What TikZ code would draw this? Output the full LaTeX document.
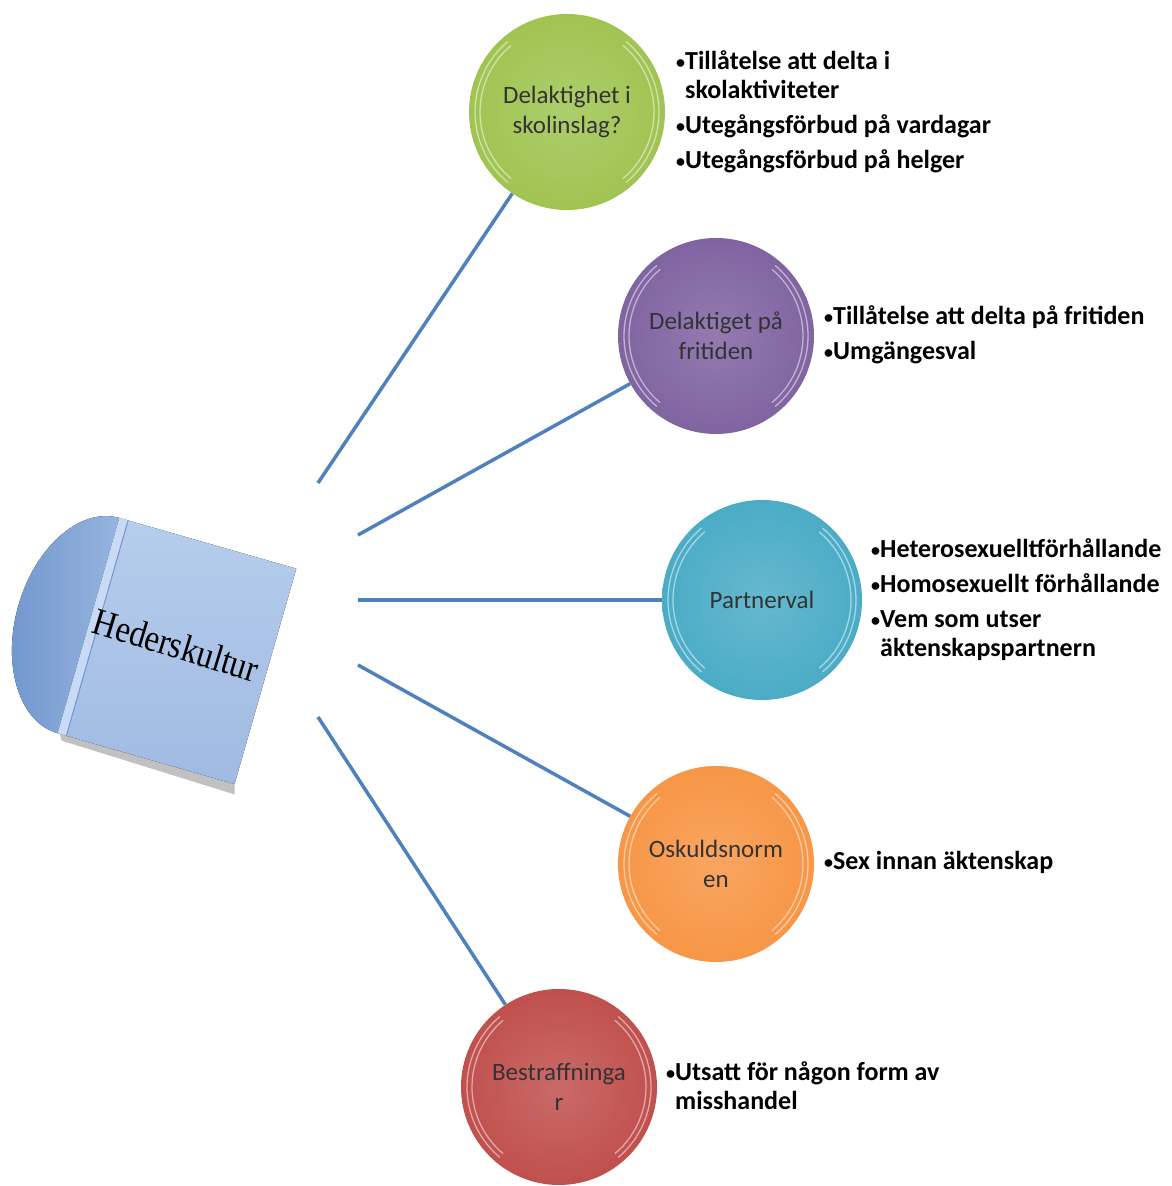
\documentclass[tikz,border=0pt]{standalone}
\usepackage{fontspec}
\setmainfont{Carlito}
\newfontfamily\serifhead[FakeStretch=0.86]{Liberation Serif}
\definecolor{linkblue}{RGB}{79,129,189}
\definecolor{cgreen}{RGB}{160,196,82}
\definecolor{cpurple}{RGB}{128,100,162}
\definecolor{cteal}{RGB}{75,172,198}
\definecolor{corange}{RGB}{247,150,70}
\definecolor{cred}{RGB}{192,80,77}
\definecolor{sqtop}{RGB}{182,205,236}
\definecolor{sqbot}{RGB}{160,186,226}
\definecolor{diskA}{RGB}{112,150,206}
\definecolor{diskB}{RGB}{150,180,222}
\definecolor{stripc}{RGB}{200,218,244}
\newcommand\bu{{\fontsize{18}{18}\selectfont\raisebox{1.5pt}{•}}}
\newcommand\bi{\hphantom{\bu}}
\tikzset{
  link/.style={draw=linkblue, line width=3.5pt},
  ball/.style={circle, minimum size=196pt, inner sep=0pt, align=center,
    font=\fontsize{25}{30}\selectfont, text=black!80},
  bul/.style={anchor=base west, inner sep=0pt, align=left,
    font=\bfseries\fontsize{26}{29}\selectfont},
  glintline/.style={white, opacity=.5, line width=1.3pt}
}
\newcommand\glint[2]{%
  \foreach \rr in {#2} {%
    \draw[glintline] (#1.center) ++(130:\rr) arc[start angle=130,end angle=230,radius=\rr];
    \draw[glintline] (#1.center) ++(-50:\rr) arc[start angle=-50,end angle=50,radius=\rr];
  }}
\begin{document}
\begin{tikzpicture}[x=1pt,y=1pt]
\useasboundingbox (0,0) rectangle (1171,1186);
\fill[white] (0,0) rectangle (1171,1186);

% left shape
\begin{scope}[shift={(177,535)}, rotate=-16]
  \fill[left color=diskA, right color=diskB] (-92,112) arc[start angle=90, end angle=270, x radius=73, y radius=112] -- cycle;
  \fill[black!40, opacity=.6] (-90,-112) -- (92,-112) -- (95,-122) -- (-86,-118) -- cycle;
  \fill[top color=sqtop, bottom color=sqbot] (-92,-112) rectangle (92,112);
  \fill[stripc] (-92,-112) rectangle (-83,112);
  \draw[diskA, line width=1pt] (-83,-112) -- (-83,112);
\end{scope}
\node[rotate=-17, font=\serifhead\fontsize{38}{40}\selectfont, inner sep=0pt] (hk) at (176,541) {Hederskultur};

% connector start points
\coordinate (s1) at (318,703);
\coordinate (s2) at (358,651);
\coordinate (s3) at (358,586);
\coordinate (s4) at (358,521);
\coordinate (s5) at (318,469);

% circles
\node[ball, inner color=cgreen!85!white, outer color=cgreen] (c1) at (567,1074) {Delaktighet i\\skolinslag?};
\node[ball, inner color=cpurple!85!white, outer color=cpurple] (c2) at (716,850) {Delaktiget på\\fritiden};
\node[ball, minimum size=200pt, inner color=cteal!85!white, outer color=cteal] (c3) at (762,586) {Partnerval};
\node[ball, inner color=corange!85!white, outer color=corange] (c4) at (716,322) {Oskuldsnorm\\en};
\node[ball, inner color=cred!85!white, outer color=cred] (c5) at (559,99) {Bestraffninga\\r};
\glint{c1}{87,92}
\glint{c2}{87,92}
\glint{c3}{89,94}
\glint{c4}{87,92}
\glint{c5}{87,92}

% connectors
\draw[link] (s1) -- (c1);
\draw[link] (s2) -- (c2);
\draw[link] (s3) -- (c3);
\draw[link] (s4) -- (c4);
\draw[link] (s5) -- (c5);

% bullet texts (base anchor = baseline of last line)
\node[bul] (t1) at (676,1017) {\bu Tillåtelse att delta i\\\bi skolaktiviteter\\[6pt]\bu Utegångsförbud på vardagar\\[6pt]\bu Utegångsförbud på helger};
\node[bul] (t2) at (824,826) {\bu Tillåtelse att delta på fritiden\\[6pt]\bu Umgängesval};
\node[bul] (t3) at (871,529) {\bu Heterosexuelltförhållande\\[6pt]\bu Homosexuellt förhållande\\[6pt]\bu Vem som utser\\\bi äktenskapspartnern};
\node[bul] (t4) at (824,316) {\bu Sex innan äktenskap};
\node[bul] (t5) at (666,76) {\bu Utsatt för någon form av\\\bi misshandel};
\end{tikzpicture}
\end{document}
